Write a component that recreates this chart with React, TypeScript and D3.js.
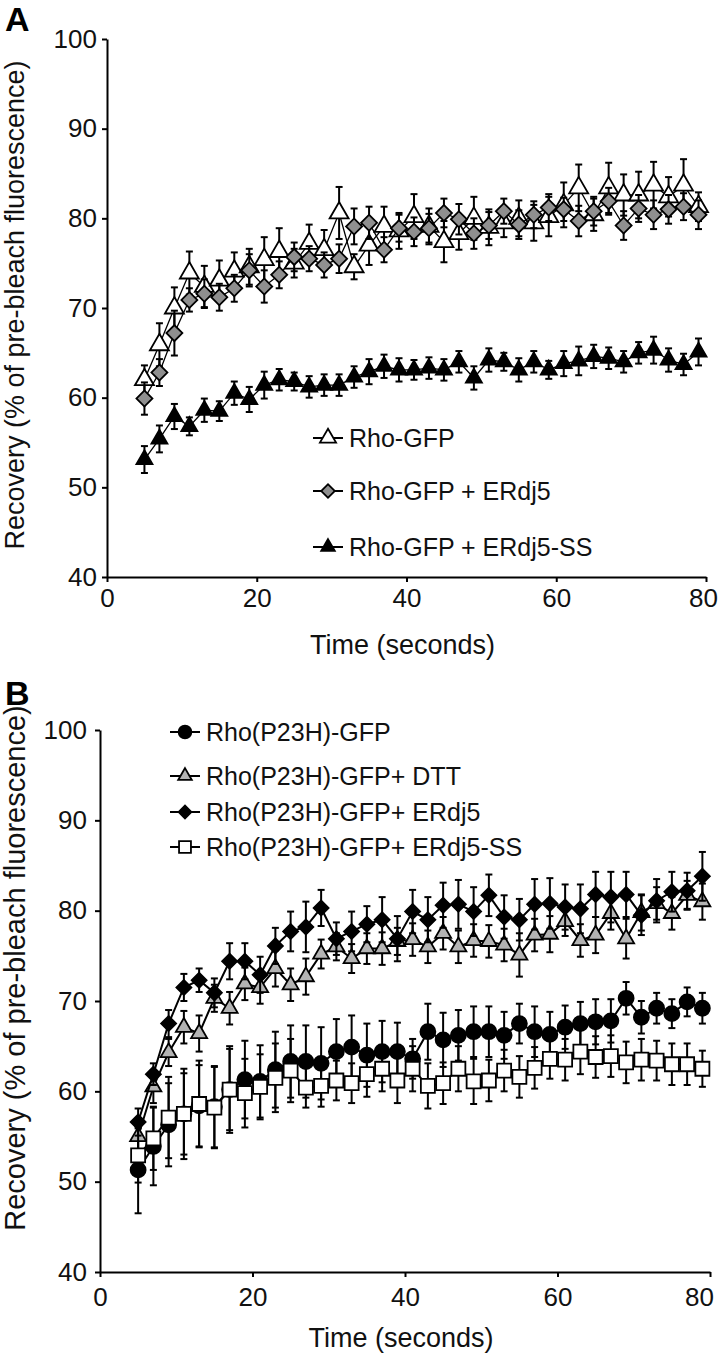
import * as d3 from "d3";
import { useEffect, useRef } from "react";

// time points (seconds)
const time = [5, 7, 9, 11, 13, 15, 17, 19, 21, 23, 25, 27, 29, 31, 33, 35, 37, 39, 41, 43, 45, 47, 49, 51, 53, 55, 57, 59, 61, 63, 65, 67, 69, 71, 73, 75, 77, 79];
const xTicks = [0, 20, 40, 60, 80];
const yTicks = [40, 50, 60, 70, 80, 90, 100];

// panel A
const rhoGfp = [62.0, 65.9, 70.0, 73.9, 72.4, 73.1, 74.1, 74.6, 75.4, 76.3, 75.0, 77.2, 76.5, 80.6, 74.6, 77.0, 79.1, 78.6, 80.2, 79.1, 77.4, 78.3, 80.0, 79.0, 79.5, 80.0, 79.5, 80.2, 81.5, 83.4, 80.4, 83.4, 82.6, 82.6, 83.7, 82.4, 83.7, 81.3];
const rhoGfpErr = [1.6, 2.4, 2.3, 2.4, 2.3, 2.2, 2.1, 2.0, 2.5, 2.6, 1.6, 2.1, 2.2, 2.9, 1.4, 2.2, 2.2, 2.0, 2.5, 2.0, 2.3, 1.8, 2.4, 2.0, 1.6, 2.0, 2.0, 2.2, 2.5, 2.6, 1.8, 2.8, 2.3, 2.6, 2.6, 2.2, 2.9, 1.6];
const rhoErdj5 = [59.9, 62.8, 67.2, 70.9, 71.6, 71.2, 72.2, 74.2, 72.4, 73.7, 75.7, 75.5, 74.8, 75.5, 79.1, 79.5, 76.5, 78.9, 78.5, 78.9, 80.6, 79.9, 78.3, 79.2, 80.8, 79.3, 80.4, 81.2, 81.0, 79.7, 80.8, 81.9, 79.2, 81.1, 80.4, 81.0, 81.3, 80.4];
const rhoErdj5Err = [1.8, 1.5, 2.5, 1.3, 1.6, 1.5, 1.5, 1.8, 1.8, 1.5, 1.6, 1.4, 1.4, 1.6, 2.0, 1.8, 1.4, 1.5, 1.6, 1.6, 1.6, 1.7, 1.7, 1.5, 1.4, 1.6, 1.5, 1.5, 1.3, 1.7, 1.6, 1.5, 1.6, 1.5, 1.6, 1.6, 1.5, 1.6];
const rhoErdj5SS = [53.1, 55.4, 57.9, 56.8, 58.6, 58.5, 60.5, 59.8, 61.4, 62.0, 61.8, 61.2, 61.4, 61.4, 62.3, 62.9, 63.5, 63.1, 63.1, 63.3, 63.1, 64.0, 62.2, 64.2, 64.0, 63.1, 64.0, 63.1, 63.8, 64.1, 64.6, 64.4, 64.0, 65.0, 65.3, 64.2, 63.7, 65.1];
const rhoErdj5SSErr = [1.5, 1.5, 1.4, 1.0, 1.3, 1.1, 1.3, 1.4, 1.5, 1.2, 1.0, 1.2, 1.2, 1.2, 1.2, 1.4, 1.3, 1.3, 1.1, 1.2, 1.2, 1.2, 1.3, 1.3, 1.0, 1.3, 1.2, 1.0, 1.4, 1.6, 1.3, 1.2, 1.2, 1.2, 1.5, 1.3, 1.2, 1.5];

// panel B
const p23h = [51.3, 53.9, 56.3, 57.5, 58.4, 58.3, 60.2, 61.3, 61.1, 62.4, 63.3, 63.3, 63.1, 64.4, 64.9, 64.0, 64.4, 64.4, 63.6, 66.6, 65.7, 66.2, 66.6, 66.6, 66.2, 67.5, 66.6, 66.3, 67.1, 67.5, 67.7, 67.8, 70.3, 68.2, 69.2, 68.6, 69.9, 69.2];
const p23hErr = [4.8, 4.3, 4.6, 4.5, 4.5, 4.5, 4.5, 4.3, 4.0, 4.2, 4.0, 4.0, 4.0, 3.6, 3.5, 3.5, 3.4, 3.2, 2.2, 3.1, 3.0, 2.8, 2.8, 2.8, 2.6, 2.2, 2.8, 2.5, 2.4, 2.4, 2.5, 2.4, 1.8, 1.8, 1.7, 1.6, 1.6, 1.7];
const p23hDtt = [55.0, 60.5, 64.3, 67.1, 66.4, 70.3, 69.2, 71.9, 71.5, 73.6, 71.8, 72.7, 75.2, 76.0, 74.7, 75.8, 75.8, 76.6, 76.8, 76.0, 77.5, 76.0, 76.7, 76.6, 76.2, 75.1, 77.3, 77.4, 78.8, 76.7, 77.3, 79.7, 76.9, 79.8, 80.8, 79.7, 81.7, 81.0];
const p23hDttErr = [1.5, 1.8, 1.5, 1.8, 2.0, 1.5, 1.8, 1.8, 1.8, 2.0, 1.8, 2.0, 1.6, 1.5, 1.6, 1.7, 1.8, 1.5, 1.8, 1.8, 1.8, 1.8, 1.8, 1.8, 1.8, 2.4, 1.8, 2.0, 1.6, 1.8, 2.0, 1.8, 2.2, 2.0, 1.8, 1.8, 1.6, 2.0];
const p23hErdj5 = [56.6, 61.9, 67.5, 71.5, 72.3, 70.9, 74.4, 74.4, 72.9, 76.1, 77.7, 78.2, 80.3, 76.9, 77.7, 78.5, 79.0, 76.9, 79.9, 79.0, 80.6, 80.7, 79.9, 81.7, 79.3, 79.0, 80.7, 80.8, 80.4, 80.2, 81.8, 81.5, 81.8, 79.5, 81.1, 82.1, 82.2, 83.8];
const p23hErdj5Err = [1.5, 1.2, 1.5, 1.5, 1.3, 1.6, 2.0, 2.0, 2.0, 2.0, 2.2, 2.8, 2.0, 1.8, 2.2, 2.0, 2.5, 2.5, 2.4, 2.5, 2.5, 2.7, 2.7, 2.3, 2.4, 2.3, 2.8, 2.8, 2.5, 2.7, 2.5, 2.8, 2.5, 2.2, 2.4, 2.2, 2.0, 2.7];
const p23hErdj5SS = [52.9, 54.8, 57.1, 57.5, 58.6, 58.2, 60.2, 59.8, 60.5, 61.5, 62.3, 60.4, 60.6, 61.2, 60.9, 61.9, 62.5, 61.2, 62.5, 60.6, 60.9, 62.5, 61.1, 61.2, 62.3, 61.6, 62.6, 63.6, 63.5, 64.4, 63.8, 63.9, 63.2, 63.5, 63.4, 63.0, 63.0, 62.5];
const p23hErdj5SSErr = [3.0, 3.5, 4.5, 5.0, 4.8, 4.5, 4.8, 3.8, 3.6, 3.8, 3.5, 2.2, 2.3, 2.2, 2.2, 2.5, 2.5, 2.5, 2.5, 2.5, 2.3, 2.5, 2.5, 2.3, 2.3, 2.3, 2.3, 2.2, 2.3, 2.5, 2.3, 2.3, 2.3, 2.3, 2.2, 2.3, 2.3, 2.0];

const FONT = "'Liberation Sans', Arial, Helvetica, sans-serif";

const panels = [
  {
    label: "A", labelY: 31,
    left: 107, right: 706, top: 39, bottom: 577,
    yPad: 5, xPad: 7, lastTickShift: -3, xTitleY: 654, yTitleX: 24, yTitleY: 305, yTitleSize: 27,
    legendX: 313, legendRows: [438, 491, 547], lineWidth: 1.3,
    series: [
      { name: "Rho-GFP", values: rhoGfp, errors: rhoGfpErr, shape: "triangle", fill: "#fff", size: 19 },
      { name: "Rho-GFP + ERdj5", values: rhoErdj5, errors: rhoErdj5Err, shape: "diamond", fill: "#8f8f8f", size: 16 },
      { name: "Rho-GFP + ERdj5-SS", values: rhoErdj5SS, errors: rhoErdj5SSErr, shape: "triangle", fill: "#000", size: 16 },
    ],
  },
  {
    label: "B", labelY: 705,
    left: 100, right: 710, top: 730, bottom: 1272,
    yPad: 8, xPad: 11, lastTickShift: -11, xTitleY: 1347, yTitleX: 25, yTitleY: 968, yTitleSize: 29,
    legendX: 170, legendRows: [732, 776, 812, 847], lineWidth: 2,
    series: [
      { name: "Rho(P23H)-GFP", values: p23h, errors: p23hErr, shape: "circle", fill: "#000", size: 15 },
      { name: "Rho(P23H)-GFP+ DTT", values: p23hDtt, errors: p23hDttErr, shape: "triangle", fill: "#b3b3b3", size: 16 },
      { name: "Rho(P23H)-GFP+ ERdj5", values: p23hErdj5, errors: p23hErdj5Err, shape: "diamond", fill: "#000", size: 15 },
      { name: "Rho(P23H)-GFP+ ERdj5-SS", values: p23hErdj5SS, errors: p23hErdj5SSErr, shape: "square", fill: "#fff", size: 14 },
    ],
  },
];

// marker path; size ~ visible width in px
const markerPath = (shape, size) => {
  if (shape === "circle") return d3.symbol(d3.symbolCircle, Math.PI * (size / 2) ** 2)();
  if (shape === "square") return d3.symbol(d3.symbolSquare, size * size)();
  if (shape === "diamond") return d3.symbol(d3.symbolSquare, (size * size) / 2)();
  // equilateral triangle with side = size
  return d3.symbol(d3.symbolTriangle, (size * size * Math.sqrt(3)) / 4)();
};

const drawMarker = (g, s, x, y) => {
  g.append("path")
    .attr("d", markerPath(s.shape, s.size))
    .attr("transform", `translate(${x},${y})` + (s.shape === "diamond" ? " rotate(45)" : ""))
    .attr("fill", s.fill)
    .attr("stroke", "#000")
    .attr("stroke-width", 1.8);
};

const App = () => {
  const svgRef = useRef(null);

  useEffect(() => {
    const svg = d3.select(svgRef.current);
    svg.selectAll("*").remove();

    panels.forEach((p) => {
      const g = svg.append("g");
      const x = d3.scaleLinear().domain([0, 80]).range([p.left, p.right]);
      const y = d3.scaleLinear().domain([40, 100]).range([p.bottom, p.top]);

      // panel letter
      g.append("text")
        .attr("x", 5).attr("y", p.labelY)
        .attr("font-family", FONT).attr("font-weight", "bold").attr("font-size", 34)
        .text(p.label);

      // axes
      const yAxis = g.append("g")
        .attr("transform", `translate(${p.left},0)`)
        .call(d3.axisLeft(y).tickValues(yTicks).tickSize(5).tickSizeOuter(0).tickPadding(p.yPad));
      const xAxis = g.append("g")
        .attr("transform", `translate(0,${p.bottom})`)
        .call(d3.axisBottom(x).tickValues(xTicks).tickSize(5).tickSizeOuter(0).tickPadding(p.xPad));
      [yAxis, xAxis].forEach((ax) => {
        ax.selectAll("path,line").attr("stroke", "#000").attr("stroke-width", 2);
        ax.selectAll("text").attr("font-family", FONT).attr("font-size", 26).attr("fill", "#111");
      });
      // keep the last x label inside the page
      xAxis.selectAll("text").filter((d) => d === 80).attr("dx", p.lastTickShift);

      // axis titles
      g.append("text")
        .attr("x", (p.left + p.right) / 2 - 4).attr("y", p.xTitleY)
        .attr("text-anchor", "middle")
        .attr("font-family", FONT).attr("font-size", 27).attr("fill", "#111")
        .text("Time (seconds)");
      g.append("text")
        .attr("transform", `translate(${p.yTitleX},${p.yTitleY}) rotate(-90)`)
        .attr("text-anchor", "middle")
        .attr("font-family", FONT).attr("font-size", p.yTitleSize).attr("fill", "#111")
        .text("Recovery (% of pre-bleach fluorescence)");

      // series
      const line = d3.line().x((d) => x(d[0])).y((d) => y(d[1]));
      p.series.forEach((s) => {
        const pts = time.map((t, i) => [t, s.values[i], s.errors[i]]);
        const sg = g.append("g");
        sg.append("path")
          .attr("d", line(pts))
          .attr("fill", "none")
          .attr("stroke", "#000")
          .attr("stroke-width", p.lineWidth);
        // error bars
        pts.forEach(([t, v, e]) => {
          const cx = x(t);
          sg.append("line")
            .attr("x1", cx).attr("x2", cx).attr("y1", y(v - e)).attr("y2", y(v + e))
            .attr("stroke", "#000").attr("stroke-width", 2);
          [v - e, v + e].forEach((yy) => {
            sg.append("line")
              .attr("x1", cx - 3.5).attr("x2", cx + 3.5).attr("y1", y(yy)).attr("y2", y(yy))
              .attr("stroke", "#000").attr("stroke-width", 2);
          });
        });
        pts.forEach(([t, v]) => drawMarker(sg, s, x(t), y(v)));
      });

      // legend
      p.series.forEach((s, i) => {
        const ry = p.legendRows[i];
        const lg = g.append("g");
        lg.append("line")
          .attr("x1", p.legendX).attr("x2", p.legendX + 30).attr("y1", ry).attr("y2", ry)
          .attr("stroke", "#000").attr("stroke-width", 2);
        drawMarker(lg, { ...s, size: s.size * 0.85 }, p.legendX + 15, ry);
        lg.append("text")
          .attr("x", p.legendX + 36).attr("y", ry).attr("dy", "0.35em")
          .attr("font-family", FONT).attr("font-size", 25).attr("fill", "#111")
          .text(s.name);
      });
    });
  }, []);

  return (
    <svg
      ref={svgRef}
      width={721}
      height={1366}
      style={{ position: "absolute", left: 0, top: 0, background: "#fff" }}
    />
  );
};

export default App;
